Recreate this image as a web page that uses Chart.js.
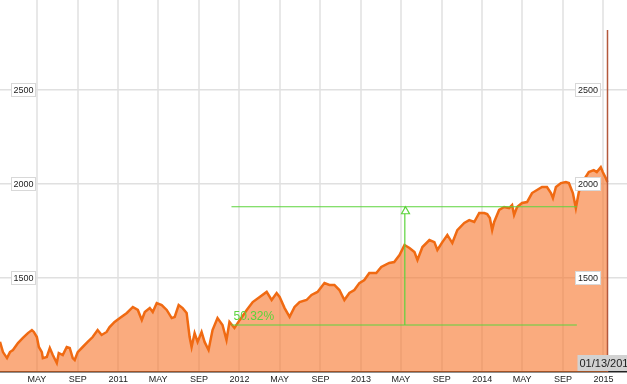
<!DOCTYPE html>
<html>
<head>
<meta charset="utf-8">
<script src="https://cdn.jsdelivr.net/npm/chart.js@4.4.1/dist/chart.umd.min.js"></script>
<style>
  body { margin: 0; background: #fff; overflow: hidden; }
</style>
</head>
<body>
<canvas id="chart" width="627" height="384"></canvas>
<script>
// PRICE DATA (month-day per year)
const dates2010 = ["01-10","01-19","01-31","02-09","02-18","03-05","03-20","04-04","04-16","04-22","05-01","05-07","05-16","05-19","05-31","06-09","06-18","06-30","07-06","07-18","07-30","08-08","08-17","08-23","09-01","09-16","10-01","10-16","10-31","11-12","11-27","12-06","12-21"];
const close2010 = [1161,1106,1074,1106,1117,1154,1181,1207,1223,1213,1186,1133,1106,1074,1080,1128,1090,1048,1101,1090,1133,1128,1074,1064,1106,1133,1160,1186,1223,1197,1213,1239,1266];

const dates2011 = ["01-06","01-27","02-14","03-01","03-13","03-22","04-06","04-15","04-27","05-12","05-27","06-11","06-20","07-02","07-14","07-26","08-04","08-10","08-19","08-28","09-09","09-18","09-30","10-12","10-27","11-11","11-23","12-02","12-17"];
const close2011 = [1287,1314,1346,1330,1277,1319,1340,1319,1367,1356,1330,1287,1293,1356,1340,1314,1186,1133,1207,1160,1213,1160,1117,1223,1287,1250,1170,1266,1234];

const dates2012 = ["01-02","01-17","01-23","02-10","03-02","03-23","04-07","04-22","05-01","05-16","05-31","06-15","06-30","07-21","08-05","08-23","09-13","09-28","10-13","10-28","11-12","11-27","12-12","12-27"];
const close2012 = [1277,1314,1330,1372,1399,1426,1383,1420,1399,1340,1293,1346,1372,1383,1410,1426,1473,1463,1463,1436,1383,1420,1436,1473];

const dates2013 = ["01-11","01-26","02-16","03-03","03-27","04-11","04-27","05-12","05-27","06-11","06-20","07-05","07-26","08-10","08-19","09-03","09-18","10-03","10-18","11-08","11-23","12-08","12-23"];
const close2013 = [1489,1527,1527,1559,1580,1585,1622,1676,1660,1638,1596,1665,1702,1691,1649,1691,1729,1686,1755,1793,1808,1798,1846];

const dates2014 = ["01-07","01-16","01-24","01-31","02-06","02-21","03-08","03-23","04-01","04-07","04-16","05-01","05-16","05-31","06-15","06-30","07-15","07-27","08-02","08-11","08-26","09-10","09-19","10-01","10-10","10-19","10-28","11-18","12-03","12-12","12-24","12-30"];
const close2014 = [1846,1840,1819,1755,1798,1862,1878,1872,1888,1835,1878,1899,1904,1952,1968,1984,1984,1952,1925,1984,2005,2011,2005,1952,1872,1957,2005,2064,2074,2064,2090,2064];

const dates2015 = ["01-08","01-13"];
const close2015 = [2032,2011];

// AXES
const tickDates = ["2010-05-01","2010-09-01","2011-01-01","2011-05-01","2011-09-01","2012-01-01","2012-05-01","2012-09-01","2013-01-01","2013-05-01","2013-09-01","2014-01-01","2014-05-01","2014-09-01","2015-01-01"];
const tickLabels = ["MAY","SEP","2011","MAY","SEP","2012","MAY","SEP","2013","MAY","SEP","2014","MAY","SEP","2015"];
const xStart = "2010-01-10";
const xEnd = "2015-03-13";
const yTicks = [1500, 2000, 2500];
const yMin = 1000;
const yMax = 2979;

// GAIN MARKER
const gainBase = 1250;
const gainTop = 1879;
const gainStart = "2011-12-08";
const gainEnd = "2014-10-13";
const gainMark = "2013-05-13";
const gainLabel = "50.32%";

// CURSOR
const cursorDate = "2015-01-13";
const cursorLabel = "01/13/2015";
const cursorTop = 2820;

function dayNum(s) {
  const [y, m, d] = s.split("-").map(Number);
  return (Date.UTC(y, m - 1, d) - Date.UTC(2010, 0, 1)) / 86400000;
}

const priceData = [];
[[2010, dates2010, close2010], [2011, dates2011, close2011], [2012, dates2012, close2012],
 [2013, dates2013, close2013], [2014, dates2014, close2014], [2015, dates2015, close2015]]
  .forEach(([yr, ds, vs]) => {
    ds.forEach((md, i) => priceData.push({ x: dayNum(yr + "-" + md), y: vs[i] }));
  });

const green = "#5cd43c";

// labels, arrow head and cursor drawn on top of the lines
const overlay = {
  id: "overlay",
  afterDatasetsDraw(chart) {
    const ctx = chart.ctx;
    const xs = chart.scales.x, ys = chart.scales.y;
    const area = chart.chartArea;
    const cx = Math.round(xs.getPixelForValue(dayNum(cursorDate))) + 0.5;
    ctx.save();

    // cursor line
    ctx.strokeStyle = "#b4583c";
    ctx.lineWidth = 1.5;
    ctx.beginPath();
    ctx.moveTo(cx, ys.getPixelForValue(cursorTop));
    ctx.lineTo(cx, area.bottom);
    ctx.stroke();

    // value boxes on both sides
    ctx.font = "9px 'Liberation Sans', Arial, sans-serif";
    ctx.textAlign = "center";
    ctx.textBaseline = "middle";
    yTicks.forEach(v => {
      const py = Math.round(ys.getPixelForValue(v));
      [[11.5, 24], [cx - 32, 25]].forEach(([bx, bw]) => {
        ctx.fillStyle = "#fff";
        ctx.fillRect(bx, py - 7, bw, 14);
        ctx.strokeStyle = "#d8d8d8";
        ctx.lineWidth = 1;
        ctx.strokeRect(bx, py - 6.5, bw, 13);
        ctx.fillStyle = "#222";
        ctx.fillText(String(v), bx + bw / 2, py + 0.5);
      });
    });

    // date box
    ctx.fillStyle = "#d2d2d2";
    ctx.fillRect(cx - 30, area.bottom - 17, area.right - cx + 30, 16);
    ctx.fillStyle = "#222";
    ctx.textAlign = "left";
    ctx.font = "11px 'Liberation Sans', Arial, sans-serif";
    ctx.fillText(cursorLabel, cx - 28, area.bottom - 8.5);

    // arrow head and percentage
    const mx = Math.round(xs.getPixelForValue(dayNum(gainMark))) + 0.5;
    const ty = ys.getPixelForValue(gainTop);
    ctx.fillStyle = "#fff";
    ctx.strokeStyle = green;
    ctx.lineWidth = 1.2;
    ctx.beginPath();
    ctx.moveTo(mx, ty);
    ctx.lineTo(mx - 4, ty + 7);
    ctx.lineTo(mx + 4, ty + 7);
    ctx.closePath();
    ctx.fill();
    ctx.stroke();

    ctx.fillStyle = green;
    ctx.font = "12px 'Liberation Sans', Arial, sans-serif";
    ctx.textBaseline = "alphabetic";
    ctx.fillText(gainLabel, xs.getPixelForValue(dayNum(gainStart)) + 2, ys.getPixelForValue(gainBase) - 5);
    ctx.restore();
  }
};

function segment(points) {
  return {
    data: points,
    borderColor: green,
    borderWidth: 1.2,
    pointRadius: 0,
    fill: false,
    order: 0
  };
}

new Chart(document.getElementById("chart"), {
  type: "line",
  data: {
    datasets: [
      {
        data: priceData,
        borderColor: "#f06a12",
        borderWidth: 2.5,
        backgroundColor: "rgba(247,115,40,0.6)",
        fill: "start",
        pointRadius: 0,
        tension: 0,
        order: 1
      },
      segment([{ x: dayNum(gainStart), y: gainTop }, { x: dayNum(gainEnd), y: gainTop }]),
      segment([{ x: dayNum(gainStart), y: gainBase }, { x: dayNum(gainEnd), y: gainBase }]),
      segment([{ x: dayNum(gainMark), y: gainBase }, { x: dayNum(gainMark), y: gainTop }])
    ]
  },
  options: {
    responsive: false,
    devicePixelRatio: 1,
    animation: false,
    layout: { padding: 0 },
    plugins: { legend: { display: false }, tooltip: { enabled: false } },
    scales: {
      x: {
        type: "linear",
        min: dayNum(xStart),
        max: dayNum(xEnd),
        afterBuildTicks: s => { s.ticks = tickDates.map(d => ({ value: dayNum(d) })); },
        afterFit: s => { s.height = 12; },
        grid: { color: "#e8e8e8", lineWidth: 2, drawTicks: false },
        border: { display: true, color: "#222", width: 1.5 },
        ticks: {
          autoSkip: false,
          maxRotation: 0,
          padding: 2,
          color: "#222",
          font: { family: "'Liberation Sans', Arial, sans-serif", size: 9 },
          callback: (v, i) => tickLabels[i]
        }
      },
      y: {
        min: yMin,
        max: yMax,
        afterBuildTicks: s => { s.ticks = yTicks.map(v => ({ value: v })); },
        afterFit: s => { s.width = 0; },
        grid: { color: "#e0e0e0", lineWidth: 1.5, drawTicks: false },
        border: { display: false },
        ticks: { display: false }
      }
    }
  },
  plugins: [overlay]
});
</script>
</body>
</html>
